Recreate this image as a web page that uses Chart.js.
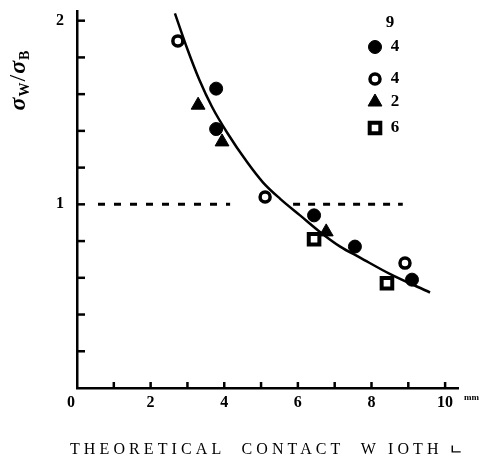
<!DOCTYPE html>
<html><head><meta charset="utf-8">
<script src="https://cdn.jsdelivr.net/npm/chart.js@4"></script>
<style>html,body{margin:0;padding:0;background:#fff}</style>
</head><body>
<canvas id="c" width="483" height="462" style="width:483px;height:462px;display:block"></canvas>
<script>
// ---- data ----
const filledX = [3.78, 3.78, 6.44, 7.55, 9.10];
const filledY = [1.63, 1.41, 0.94, 0.77, 0.59];
const openX = [2.74, 5.11, 8.91];
const openY = [1.89, 1.04, 0.68];
const triX = [3.29, 3.94, 6.77];
const triY = [1.54, 1.34, 0.85];
const sqX = [6.44, 8.42];
const sqY = [0.81, 0.57];
const curveX = [2.66, 2.99, 3.32, 3.67, 4.08, 4.62, 5.05, 5.52, 6.06, 6.60, 7.15, 7.69, 8.51, 9.59];
const curveY = [2.04, 1.85, 1.68, 1.53, 1.39, 1.23, 1.12, 1.03, 0.94, 0.85, 0.77, 0.71, 0.62, 0.52];
const refLevel = 1.0;
const refSeg1 = [0.57, 4.16];
const refSeg2 = [5.87, 8.85];
const xTickLabels = ["2", "4", "6", "8", "10"];
const xTickValues = [2, 4, 6, 8, 10];
const yTickLabels = ["1", "2"];
const yTickValues = [1, 2];
const legendLabels = ["4", "4", "2", "6"];
const legendHeader = "9";
const xTitle = "THEORETICAL  CONTACT  W IOTH";
const xUnit = "ㄴ";

const pts = (xs, ys) => xs.map((x, i) => ({x, y: ys[i]}));
const SERIF = "'Liberation Serif', 'DejaVu Serif', serif";

const markerStyles = [
  {pointStyle: 'circle', pointRadius: 6.5, backgroundColor: '#000', borderColor: '#000', borderWidth: 1},
  {pointStyle: 'circle', pointRadius: 5, backgroundColor: '#fff', borderColor: '#000', borderWidth: 3.5},
  {pointStyle: 'triangle', pointRadius: 8, backgroundColor: '#000', borderColor: '#000', borderWidth: 1},
  {pointStyle: 'rect', pointRadius: 7.5, backgroundColor: '#fff', borderColor: '#000', borderWidth: 4}
];

const deco = {
  id: 'deco',
  afterDraw(chart) {
    const ctx = chart.ctx, xs = chart.scales.x, ys = chart.scales.y;
    const x0 = xs.getPixelForValue(0), y0 = ys.getPixelForValue(0);
    ctx.save();
    ctx.strokeStyle = '#000'; ctx.fillStyle = '#000'; ctx.lineWidth = 2.5;
    // inward ticks
    for (let v = 1; v <= 10; v++) {
      const px = xs.getPixelForValue(v);
      ctx.beginPath(); ctx.moveTo(px, y0); ctx.lineTo(px, y0 - 6); ctx.stroke();
    }
    for (let k = 1; k <= 10; k++) {
      const py = ys.getPixelForValue(k * 0.2);
      ctx.beginPath(); ctx.moveTo(x0, py); ctx.lineTo(x0 + 8, py); ctx.stroke();
    }
    // tick labels
    ctx.font = 'bold 16px ' + SERIF;
    ctx.textAlign = 'center'; ctx.textBaseline = 'middle';
    xTickValues.forEach((v, i) => ctx.fillText(xTickLabels[i], xs.getPixelForValue(v), y0 + 15));
    ctx.fillText('0', x0 - 6, y0 + 15);
    ctx.textAlign = 'right';
    yTickValues.forEach((v, i) => ctx.fillText(yTickLabels[i], x0 - 13, ys.getPixelForValue(v)));
    // unit mark at axis end
    ctx.font = 'bold 9px ' + SERIF; ctx.textAlign = 'left';
    ctx.fillText('mm', xs.getPixelForValue(10.35) + 6, y0 + 10);
    // x title
    ctx.font = '16px ' + SERIF; ctx.textAlign = 'left';
    ctx.letterSpacing = '4.1px';
    ctx.fillText(xTitle, 70, 450);
    ctx.letterSpacing = '0px';
    ctx.font = 'bold 14px ' + SERIF;
    ctx.fillText(xUnit, 449, 450);
    // y title (rotated)
    ctx.save();
    ctx.translate(19, 80); ctx.rotate(-Math.PI / 2);
    const parts = [['σ', 'bold italic 24px ' + SERIF, 0], ['W', 'bold 14px ' + SERIF, 6], ['/', '24px ' + SERIF, 0], ['σ', 'bold italic 24px ' + SERIF, 0], ['B', 'bold 14px ' + SERIF, 6]];
    let total = 0;
    parts.forEach(p => { ctx.font = p[1]; total += ctx.measureText(p[0]).width + 1; });
    let cx = -total / 2;
    ctx.textAlign = 'left';
    parts.forEach(p => { ctx.font = p[1]; ctx.fillText(p[0], cx, p[2]); cx += ctx.measureText(p[0]).width + 1; });
    ctx.restore();
    // legend
    ctx.font = 'bold 17px ' + SERIF; ctx.textAlign = 'center';
    ctx.fillText(legendHeader, 390, 23);
    const ly = [47, 79, 102, 128];
    markerStyles.forEach((m, i) => {
      ctx.save();
      ctx.fillStyle = m.backgroundColor; ctx.strokeStyle = m.borderColor; ctx.lineWidth = m.borderWidth;
      Chart.helpers.drawPoint(ctx, {pointStyle: m.pointStyle, radius: m.pointRadius, rotation: 0, borderWidth: m.borderWidth}, 375, ly[i]);
      ctx.restore();
      ctx.fillText(legendLabels[i], 395, ly[i]);
    });
    ctx.restore();
  }
};

new Chart(document.getElementById('c'), {
  type: 'scatter',
  data: {
    datasets: [
      {data: pts(curveX, curveY), showLine: true, borderColor: '#000', borderWidth: 2.5, pointRadius: 0, cubicInterpolationMode: 'monotone', fill: false},
      {data: refSeg1.map(x => ({x, y: refLevel})), showLine: true, borderColor: '#000', borderWidth: 3, borderDash: [7, 9], pointRadius: 0},
      {data: refSeg2.map(x => ({x, y: refLevel})), showLine: true, borderColor: '#000', borderWidth: 3, borderDash: [7, 8], pointRadius: 0},
      Object.assign({data: pts(filledX, filledY)}, markerStyles[0]),
      Object.assign({data: pts(openX, openY)}, markerStyles[1]),
      Object.assign({data: pts(triX, triY)}, markerStyles[2]),
      Object.assign({data: pts(sqX, sqY)}, markerStyles[3])
    ]
  },
  options: {
    responsive: false, animation: false, devicePixelRatio: 1,
    layout: {padding: {left: 69, right: 25, top: 9, bottom: 66}},
    plugins: {legend: {display: false}, tooltip: {enabled: false}},
    scales: {
      x: {type: 'linear', min: 0, max: 10.35, ticks: {display: false}, grid: {display: false}, border: {display: true, color: '#000', width: 2.5}},
      y: {type: 'linear', min: 0, max: 2.05, ticks: {display: false}, grid: {display: false}, border: {display: true, color: '#000', width: 2.5}}
    }
  },
  plugins: [deco]
});
</script>
</body></html>
